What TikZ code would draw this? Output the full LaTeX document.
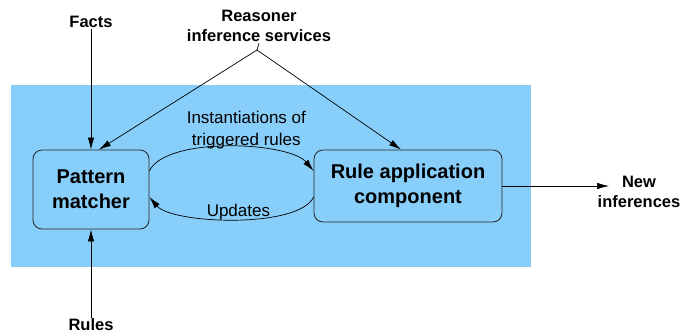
\documentclass[tikz,border=0pt]{standalone}
\usepackage{fontspec}
\setmainfont{Liberation Sans}
\usetikzlibrary{positioning, arrows.meta}
\definecolor{panelblue}{RGB}{135,206,250}

\begin{document}
\begin{tikzpicture}[
  x=1pt, y=1pt,
  box/.style={rectangle, draw=black!85, rounded corners=9pt, fill=panelblue,
              font=\fontsize{20}{25}\selectfont\bfseries, align=center,
              line width=0.8pt},
  lbl/.style={font=\fontsize{16.5}{20.5}\selectfont\bfseries, align=center,
              inner sep=1pt},
  note/.style={font=\fontsize{17}{22}\selectfont, align=center, inner sep=1pt},
  arr/.style={-{Latex[length=12pt, width=6.5pt]}, line width=0.7pt}
]
  \useasboundingbox (0,0) rectangle (682,-335);

  % Blue panel
  \node[fill=panelblue, inner sep=0pt, minimum width=520pt, minimum height=182pt,
        anchor=north west] (panel) at (11,-85) {};

  % Main components
  \node[box, minimum width=116pt, minimum height=79pt] (pm) at (91,-189.5)
        {Pattern\\matcher};
  \node[box, minimum width=188pt, minimum height=72pt] (ra) at (408,-186)
        {Rule application\\component};

  % Inputs and outputs
  \node[lbl] (facts) at (91,-22) {Facts};
  \node[lbl] (rules) at (91,-325) {Rules};
  \node[lbl] (rs) at (259,-26) {Reasoner\\inference services};
  \node[lbl] (ni) at (639,-192) {New\\inferences};
  \coordinate (apex) at (257,-50);
  \coordinate (niin) at (609,-186);

  % Arrows
  \draw[arr] (facts.south) -- (pm.north);
  \draw[arr] (rules.north) -- (pm.south);
  \draw[line width=0.7pt] (rs.south) -- (apex);
  \draw[arr] (apex) -- ([xshift=8pt]pm.north);
  \draw[arr] (apex) -- ([xshift=-7pt]ra.north);
  \draw[arr] (ra.east) -- (niin);

  % Loop between components
  \draw[arr] ([yshift=18.5pt]pm.east) to[out=65, in=130, looseness=0.6]
              node[note, above=-3pt, xshift=18pt]{Instantiations of\\triggered rules}
              ([yshift=15pt]ra.west);
  \draw[arr] ([yshift=-11pt]ra.west) to[out=-115, in=-50, looseness=0.55]
              node[note, above=-2pt, xshift=4pt]{Updates}
              ([yshift=-7.5pt]pm.east);
\end{tikzpicture}
\end{document}
